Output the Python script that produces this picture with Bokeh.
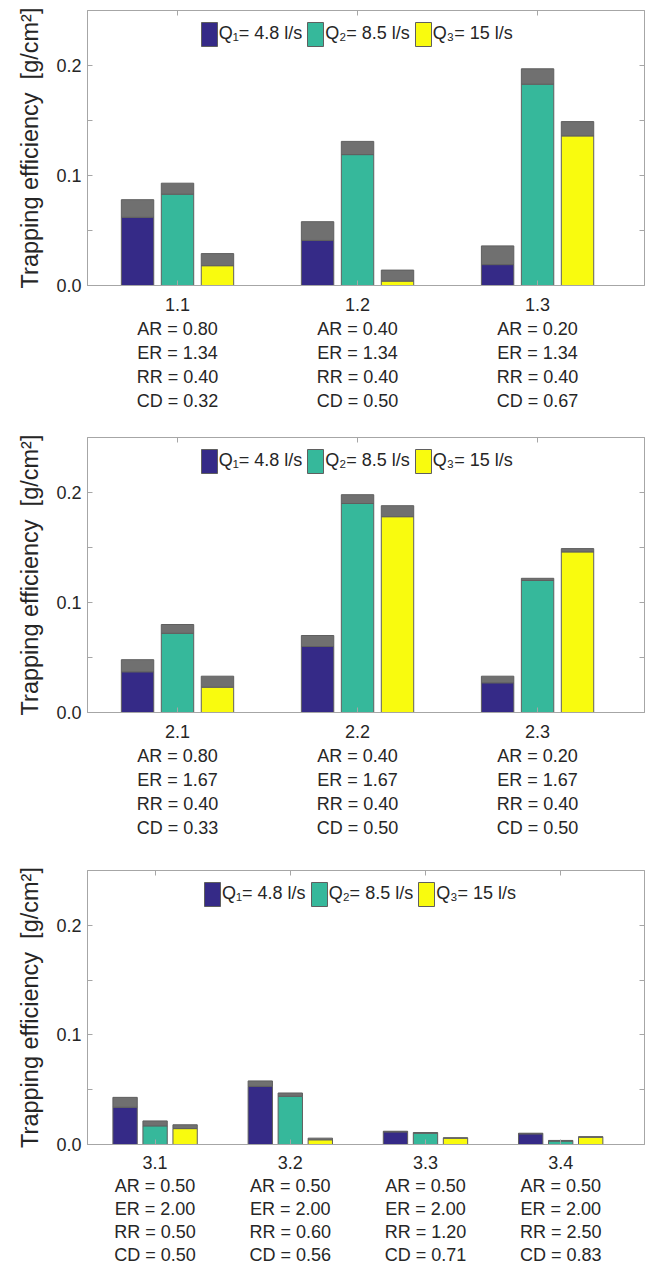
from bokeh.plotting import figure
from bokeh.models import (FixedTicker, LinearAxis, Range1d, Legend, LegendItem,
                          ColumnDataSource, NumeralTickFormatter)
from bokeh.layouts import column
from bokeh.embed import file_html
from bokeh.resources import INLINE

FONT = "Liberation Sans"
TEXT_COLOR = "#262626"
AXIS_COLOR = "#a6a6a6"

series_labels = ["Q\u2081= 4.8 l/s", "Q\u2082= 8.5 l/s", "Q\u2083= 15 l/s"]
series_colors = ["#352a87", "#36b89b", "#f9fb0e"]
cap_color = "#707070"
y_label = "Trapping efficiency \u00a0[g/cm\u00b2]"

# ---- panel 1 ----
p1_cases = ["1.1", "1.2", "1.3"]
p1_ar = ["0.80", "0.40", "0.20"]
p1_er = ["1.34", "1.34", "1.34"]
p1_rr = ["0.40", "0.40", "0.40"]
p1_cd = ["0.32", "0.50", "0.67"]
p1_q1_base = [0.062, 0.041, 0.019]
p1_q1_total = [0.078, 0.058, 0.036]
p1_q2_base = [0.083, 0.119, 0.183]
p1_q2_total = [0.093, 0.131, 0.197]
p1_q3_base = [0.018, 0.004, 0.136]
p1_q3_total = [0.029, 0.014, 0.149]

# ---- panel 2 ----
p2_cases = ["2.1", "2.2", "2.3"]
p2_ar = ["0.80", "0.40", "0.20"]
p2_er = ["1.67", "1.67", "1.67"]
p2_rr = ["0.40", "0.40", "0.40"]
p2_cd = ["0.33", "0.50", "0.50"]
p2_q1_base = [0.037, 0.060, 0.027]
p2_q1_total = [0.048, 0.070, 0.033]
p2_q2_base = [0.072, 0.190, 0.120]
p2_q2_total = [0.080, 0.198, 0.122]
p2_q3_base = [0.023, 0.178, 0.146]
p2_q3_total = [0.033, 0.188, 0.149]

# ---- panel 3 ----
p3_cases = ["3.1", "3.2", "3.3", "3.4"]
p3_ar = ["0.50", "0.50", "0.50", "0.50"]
p3_er = ["2.00", "2.00", "2.00", "2.00"]
p3_rr = ["0.50", "0.60", "1.20", "2.50"]
p3_cd = ["0.50", "0.56", "0.71", "0.83"]
p3_q1_base = [0.034, 0.053, 0.0115, 0.0097]
p3_q1_total = [0.043, 0.058, 0.0121, 0.0103]
p3_q2_base = [0.017, 0.044, 0.0103, 0.0031]
p3_q2_total = [0.0215, 0.047, 0.0109, 0.0037]
p3_q3_base = [0.0145, 0.0043, 0.0058, 0.0067]
p3_q3_total = [0.018, 0.0058, 0.0061, 0.0071]

y_major = [0, 0.1, 0.2]
y_minor = [0.05, 0.15]
y_mirror = [0.05, 0.1, 0.15, 0.2]


def style_axis(ax):
    ax.axis_line_color = AXIS_COLOR
    ax.major_tick_line_color = AXIS_COLOR
    ax.minor_tick_line_color = AXIS_COLOR
    ax.major_tick_in = 5
    ax.major_tick_out = 0
    ax.minor_tick_in = 5
    ax.minor_tick_out = 0
    ax.major_label_text_font = FONT
    ax.major_label_text_color = TEXT_COLOR
    ax.major_label_text_font_size = "18px"
    ax.major_label_standoff = 6


def make_panel(cases, ar, er, rr, cd, bases, totals, x_end, height,
               top_border, frame_h, legend_x, line_height, label_standoff):
    n = len(cases)
    xs = list(range(1, n + 1))
    bottom_border = height - top_border - frame_h
    p = figure(width=651, height=height, x_range=Range1d(0.5, x_end),
               y_range=Range1d(0, 0.25), output_backend="svg",
               toolbar_location=None, min_border_left=87, min_border_right=7,
               min_border_top=top_border, min_border_bottom=bottom_border)
    p.xgrid.visible = False
    p.ygrid.visible = False
    p.outline_line_color = AXIS_COLOR
    p.background_fill_color = "white"
    p.border_fill_color = "white"

    offsets = [-0.222, 0.0, 0.222]
    items = []
    for k in range(3):
        src = ColumnDataSource(dict(x=[x + offsets[k] for x in xs],
                                    base=bases[k], total=totals[k]))
        r = p.vbar(x="x", bottom=0, top="base", width=0.18, source=src,
                   fill_color=series_colors[k], line_color="#5f5f5f", line_width=1)
        p.vbar(x="x", bottom="base", top="total", width=0.18, source=src,
               fill_color=cap_color, line_color="#5f5f5f", line_width=1)
        items.append(LegendItem(label=series_labels[k], renderers=[r]))

    yax = p.yaxis[0]
    yax.ticker = FixedTicker(ticks=y_major, minor_ticks=y_minor)
    yax.formatter = NumeralTickFormatter(format="0.0")
    style_axis(yax)
    yax.axis_label = y_label
    yax.axis_label_text_font = FONT
    yax.axis_label_text_font_size = "23.5px"
    yax.axis_label_text_font_style = "normal"
    yax.axis_label_text_color = TEXT_COLOR
    yax.axis_label_standoff = 10

    xax = p.xaxis[0]
    xax.ticker = FixedTicker(ticks=xs, minor_ticks=[])
    style_axis(xax)
    xax.major_label_standoff = label_standoff
    xax.major_label_text_line_height = line_height
    xax.major_label_overrides = {
        xs[i]: "\n".join([cases[i], "AR = " + ar[i], "ER = " + er[i],
                          "RR = " + rr[i], "CD = " + cd[i]])
        for i in range(n)
    }

    # mirrored tick marks on the right and top edges (minor ticks only: no labels)
    rax = LinearAxis(ticker=FixedTicker(ticks=[], minor_ticks=y_mirror))
    style_axis(rax)
    rax.major_label_standoff = 0
    p.add_layout(rax, "right")
    tax = LinearAxis(ticker=FixedTicker(ticks=[], minor_ticks=xs))
    style_axis(tax)
    tax.major_label_standoff = 0
    p.add_layout(tax, "above")

    legend = Legend(items=items, orientation="horizontal",
                    location=(legend_x, frame_h - 38.5),
                    glyph_width=20, glyph_height=30, label_standoff=0,
                    spacing=3, padding=0, margin=0,
                    border_line_color=None, background_fill_alpha=0,
                    label_text_font=FONT, label_text_font_size="18px",
                    label_text_color=TEXT_COLOR)
    p.add_layout(legend)
    return p


f1 = make_panel(p1_cases, p1_ar, p1_er, p1_rr, p1_cd,
                [p1_q1_base, p1_q2_base, p1_q3_base],
                [p1_q1_total, p1_q2_total, p1_q3_total],
                x_end=3.594, height=428, top_border=10, frame_h=275,
                legend_x=111.7, line_height=1.2, label_standoff=9)
f2 = make_panel(p2_cases, p2_ar, p2_er, p2_rr, p2_cd,
                [p2_q1_base, p2_q2_base, p2_q3_base],
                [p2_q1_total, p2_q2_total, p2_q3_total],
                x_end=3.594, height=433, top_border=9, frame_h=275,
                legend_x=111.7, line_height=1.2, label_standoff=9)
f3 = make_panel(p3_cases, p3_ar, p3_er, p3_rr, p3_cd,
                [p3_q1_base, p3_q2_base, p3_q3_base],
                [p3_q1_total, p3_q2_total, p3_q3_total],
                x_end=4.62, height=406, top_border=9, frame_h=274,
                legend_x=115, line_height=1.15, label_standoff=8)

layout = column(f1, f2, f3, spacing=0)
open("out.html", "w").write(file_html(layout, INLINE))
